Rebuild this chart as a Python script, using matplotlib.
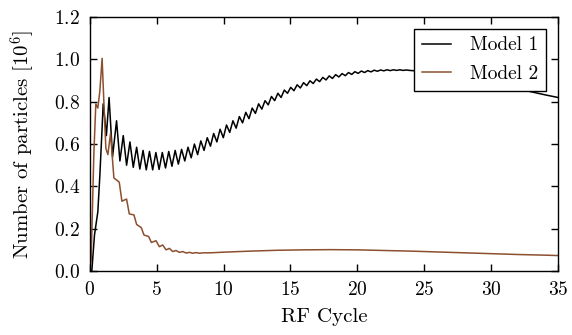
import matplotlib
matplotlib.use('Agg')
import matplotlib.pyplot as plt

plt.rcParams['font.family'] = 'serif'
plt.rcParams['font.serif'] = ['cmr10']
plt.rcParams['mathtext.fontset'] = 'cm'
plt.rcParams['axes.formatter.use_mathtext'] = True

# Model 1: rise, then peaks/troughs of the oscillation, then smooth tail
m1_x = [0.15, 0.35, 0.6, 0.75, 0.9, 1.0, 1.12, 1.24, 1.44, 1.7, 2.0, 2.25, 2.5, 2.75, 3.0, 3.25, 3.5,
        3.74, 3.98, 4.22, 4.46, 4.70, 4.94, 5.18, 5.42, 5.66, 5.90, 6.14, 6.38, 6.62, 6.86,
        7.10, 7.34, 7.58, 7.82, 8.06, 8.30, 8.54, 8.78, 9.02, 9.26, 9.50, 9.74, 9.98,
        10.22, 10.46, 10.70, 10.94, 11.18, 11.42, 11.66, 11.90, 12.14, 12.38, 12.62, 12.86,
        13.10, 13.34, 13.58, 13.82, 14.06, 14.30, 14.54, 14.78, 15.02, 15.26, 15.50, 15.74,
        15.98, 16.22, 16.46, 16.70, 16.94, 17.18, 17.42, 17.66, 17.90, 18.14, 18.38, 18.62,
        18.86, 19.10, 19.34, 19.58, 19.82, 20.06, 20.30, 20.54, 20.78, 21.02, 21.26, 21.50,
        21.74, 21.98, 22.22, 22.46, 22.70, 22.94, 23.18, 23.42, 23.66, 23.90,
        25, 26, 27, 28, 29, 30, 31, 32, 33, 34, 35]
m1_y = [0.0, 0.17, 0.28, 0.45, 0.65, 0.79, 0.72, 0.64, 0.82, 0.54, 0.71, 0.52, 0.64, 0.50, 0.61, 0.49, 0.585,
        0.482, 0.57, 0.478, 0.565, 0.478, 0.56, 0.48, 0.56, 0.487, 0.565, 0.495, 0.57, 0.505, 0.575,
        0.52, 0.585, 0.535, 0.60, 0.55, 0.615, 0.57, 0.63, 0.59, 0.65, 0.61, 0.67, 0.63,
        0.69, 0.655, 0.71, 0.675, 0.73, 0.70, 0.75, 0.72, 0.77, 0.745, 0.79, 0.765,
        0.805, 0.785, 0.825, 0.805, 0.84, 0.82, 0.855, 0.84, 0.868, 0.852, 0.88, 0.865,
        0.89, 0.876, 0.899, 0.886, 0.907, 0.895, 0.915, 0.903, 0.922, 0.91, 0.928, 0.917,
        0.933, 0.923, 0.938, 0.929, 0.942, 0.934, 0.945, 0.938, 0.947, 0.941, 0.949, 0.944,
        0.95, 0.946, 0.951, 0.947, 0.951, 0.948, 0.951, 0.948, 0.95, 0.948,
        0.943, 0.935, 0.925, 0.913, 0.90, 0.887, 0.873, 0.86, 0.847, 0.833, 0.82]

# Model 2
m2_x = [0.0, 0.1, 0.3, 0.45, 0.6, 0.75, 0.92, 1.05, 1.2, 1.35, 1.55, 1.8, 2.2, 2.4, 2.75, 2.95,
        3.3, 3.5, 3.85, 4.05, 4.4, 4.6, 4.95, 5.2, 5.45, 5.7, 5.95, 6.2, 6.45, 6.7, 6.95,
        7.2, 7.45, 7.7, 7.95, 8.2, 8.5, 9, 10, 12, 14, 16, 18, 20, 22, 24, 26, 28, 30, 32, 34, 35]
m2_y = [0.0, 0.05, 0.55, 0.79, 0.77, 0.85, 1.005, 0.8, 0.58, 0.55, 0.65, 0.44, 0.42, 0.33, 0.34, 0.27,
        0.265, 0.22, 0.205, 0.17, 0.163, 0.135, 0.143, 0.115, 0.123, 0.10, 0.107, 0.092, 0.097, 0.088, 0.092,
        0.085, 0.088, 0.084, 0.087, 0.084, 0.086, 0.086, 0.089, 0.094, 0.098, 0.10, 0.101, 0.10, 0.097,
        0.094, 0.09, 0.086, 0.082, 0.078, 0.075, 0.073]

fig = plt.figure(figsize=(5.72, 3.35), dpi=100)
ax = fig.add_axes([0.157, 0.191, 0.8185, 0.758])

ax.plot(m1_x, m1_y, color='black', lw=1.1, label='Model 1', solid_joinstyle='round')
ax.plot(m2_x, m2_y, color='#8c4f2f', lw=1.1, label='Model 2', solid_joinstyle='round')

ax.set_xlim(0, 35)
ax.set_ylim(0, 1.2)
ax.set_xticks([0, 5, 10, 15, 20, 25, 30, 35])
ax.set_yticks([0.0, 0.2, 0.4, 0.6, 0.8, 1.0, 1.2])
ax.tick_params(direction='in', top=True, right=True, length=5, width=1, labelsize=14, pad=7)
for s in ax.spines.values():
    s.set_linewidth(1.0)

ax.set_xlabel('RF Cycle', fontsize=15, labelpad=7)
ax.set_ylabel('Number of particles [$10^6$]', fontsize=15, labelpad=12)

leg = ax.legend(loc='upper right', fontsize=14, fancybox=False, framealpha=1,
                edgecolor='black', handlelength=1.5, handletextpad=1.0,
                borderaxespad=0.6, labelspacing=0.55)
leg.get_frame().set_linewidth(1.0)

fig.savefig('out.png', dpi=100)
